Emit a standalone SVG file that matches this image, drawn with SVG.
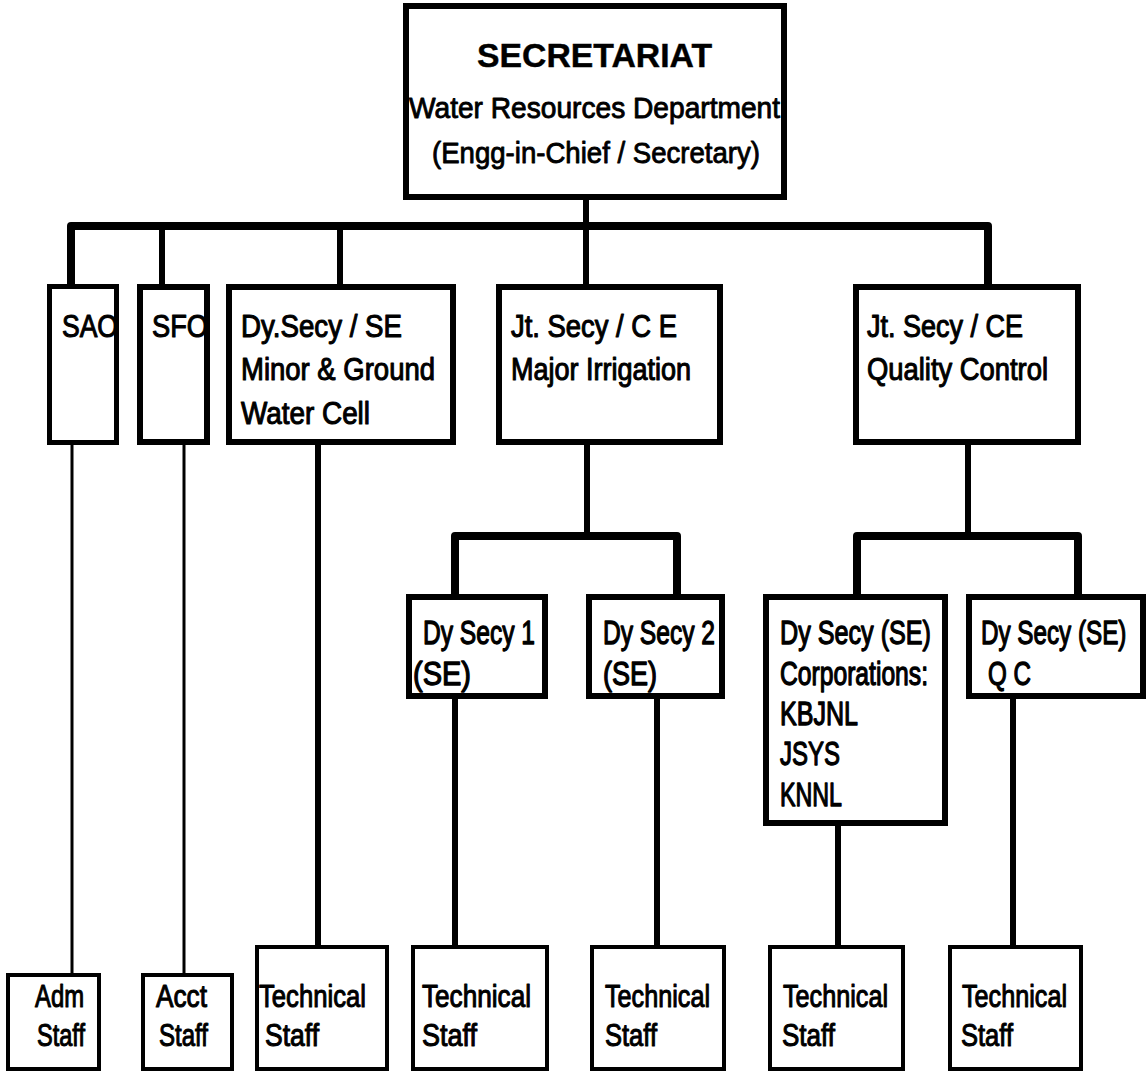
<svg xmlns="http://www.w3.org/2000/svg" width="1148" height="1075" viewBox="0 0 1148 1075">
  <style>
    .box { fill: #fff; stroke: #000; stroke-width: 6; }
    .box-mid { fill: #fff; stroke: #000; stroke-width: 5; }
    .box-thin { fill: #fff; stroke: #000; stroke-width: 4; }
    .wire { fill: none; stroke: #000; stroke-width: 6; stroke-linejoin: round; }
    .bus { fill: none; stroke: #000; stroke-width: 8; stroke-linejoin: round; }
    .wire-thin { fill: none; stroke: #000; stroke-width: 3; }
    .t { font-family: "Liberation Sans Narrow", "Liberation Sans", Arial, sans-serif; font-size: 32px; fill: #000; stroke: #000; stroke-width: 1.1; stroke-linejoin: round; }
    .t33 { font-size: 33px; stroke-width: 1.3; }
    .title { font-family: "Liberation Sans", Arial, sans-serif; font-size: 33px; font-weight: bold; fill: #000; stroke: #000; stroke-width: 0.4; }
    .sub { font-family: "Liberation Sans", Arial, sans-serif; font-size: 29.5px; fill: #000; stroke: #000; stroke-width: 0.9; stroke-linejoin: round; }
  </style>
  <defs>
    <clipPath id="clip-sao"><rect x="50" y="287" width="66" height="155"/></clipPath>
    <clipPath id="clip-sfo"><rect x="140" y="287" width="67" height="155"/></clipPath>
  </defs>
  <rect width="1148" height="1075" fill="#fff"/>

  <!-- connectors -->
  <g id="connectors">
    <!-- secretariat to second row -->
    <line class="wire" x1="586" y1="197" x2="586" y2="287"/>
    <path class="bus" d="M71 287 V226 H988 V287"/>
    <line class="wire" x1="162" y1="226" x2="162" y2="287"/>
    <line class="wire" x1="340" y1="226" x2="340" y2="287"/>
    <!-- SAO / SFO to staff -->
    <line class="wire-thin" x1="72" y1="445" x2="72" y2="975"/>
    <line class="wire-thin" x1="184" y1="445" x2="184" y2="975"/>
    <!-- minor & ground water cell to staff -->
    <line class="wire" x1="318" y1="445" x2="318" y2="947"/>
    <!-- major irrigation branch -->
    <line class="wire" x1="587" y1="445" x2="587" y2="536"/>
    <path class="bus" d="M455 597 V536 H677 V597"/>
    <!-- quality control branch -->
    <line class="wire" x1="968" y1="445" x2="968" y2="536"/>
    <path class="bus" d="M857 597 V536 H1078 V597"/>
    <!-- third row to staff -->
    <line class="wire" x1="455" y1="699" x2="455" y2="947"/>
    <line class="wire" x1="657" y1="699" x2="657" y2="947"/>
    <line class="wire" x1="838" y1="826" x2="838" y2="947"/>
    <line class="wire" x1="1013" y1="699" x2="1013" y2="947"/>
  </g>

  <!-- top -->
  <g id="secretariat">
    <rect class="box" x="406" y="6" width="378" height="191"/>
    <text class="title" x="477" y="67" textLength="235" lengthAdjust="spacingAndGlyphs">SECRETARIAT</text>
    <text class="sub" x="409" y="118" textLength="371" lengthAdjust="spacingAndGlyphs">Water Resources Department</text>
    <text class="sub" x="432" y="163" textLength="328" lengthAdjust="spacingAndGlyphs">(Engg-in-Chief / Secretary)</text>
  </g>

  <!-- second row -->
  <g id="sao">
    <rect class="box-mid" x="49.5" y="286.5" width="67" height="156"/>
    <text class="t" x="62" y="337" textLength="56" lengthAdjust="spacingAndGlyphs" clip-path="url(#clip-sao)">SAO</text>
  </g>
  <g id="sfo">
    <rect class="box" x="140" y="287" width="67" height="155"/>
    <text class="t" x="152" y="337" textLength="56" lengthAdjust="spacingAndGlyphs" clip-path="url(#clip-sfo)">SFO</text>
  </g>
  <g id="minor-ground-water">
    <rect class="box" x="229" y="287" width="224" height="155"/>
    <text class="t" x="241" y="337" textLength="161" lengthAdjust="spacingAndGlyphs">Dy.Secy / SE</text>
    <text class="t" x="241" y="380" textLength="194" lengthAdjust="spacingAndGlyphs">Minor &amp; Ground</text>
    <text class="t" x="241" y="424" textLength="129" lengthAdjust="spacingAndGlyphs">Water Cell</text>
  </g>
  <g id="major-irrigation">
    <rect class="box" x="499" y="287" width="221" height="155"/>
    <text class="t" x="511" y="337" textLength="166" lengthAdjust="spacingAndGlyphs">Jt. Secy / C E</text>
    <text class="t" x="511" y="380" textLength="180" lengthAdjust="spacingAndGlyphs">Major Irrigation</text>
  </g>
  <g id="quality-control">
    <rect class="box" x="856" y="287" width="222" height="155"/>
    <text class="t" x="867" y="337" textLength="156" lengthAdjust="spacingAndGlyphs">Jt. Secy / CE</text>
    <text class="t" x="867" y="380" textLength="181" lengthAdjust="spacingAndGlyphs">Quality Control</text>
  </g>

  <!-- third row -->
  <g id="dy-secy-1">
    <rect class="box" x="409" y="597" width="136" height="99"/>
    <text class="t t33" x="423" y="644" textLength="112" lengthAdjust="spacingAndGlyphs">Dy Secy 1</text>
    <text class="t t33" x="413" y="685" textLength="58" lengthAdjust="spacingAndGlyphs">(SE)</text>
  </g>
  <g id="dy-secy-2">
    <rect class="box" x="589" y="597" width="133" height="99"/>
    <text class="t t33" x="603" y="644" textLength="112" lengthAdjust="spacingAndGlyphs">Dy Secy 2</text>
    <text class="t t33" x="603" y="685" textLength="54" lengthAdjust="spacingAndGlyphs">(SE)</text>
  </g>
  <g id="corporations">
    <rect class="box" x="766" y="597" width="179" height="226"/>
    <text class="t t33" x="780" y="644" textLength="151" lengthAdjust="spacingAndGlyphs">Dy Secy (SE)</text>
    <text class="t t33" x="780" y="685" textLength="148" lengthAdjust="spacingAndGlyphs">Corporations:</text>
    <text class="t t33" x="780" y="725" textLength="78" lengthAdjust="spacingAndGlyphs">KBJNL</text>
    <text class="t t33" x="780" y="765" textLength="60" lengthAdjust="spacingAndGlyphs">JSYS</text>
    <text class="t t33" x="780" y="806" textLength="62" lengthAdjust="spacingAndGlyphs">KNNL</text>
  </g>
  <g id="qc-dy-secy">
    <rect class="box" x="969" y="597" width="174" height="99"/>
    <!-- narrowed with a horizontal scale so the line stays inside the box -->
    <text class="t t33" transform="translate(981 644) scale(0.735 1)">Dy Secy (SE)</text>
    <text class="t t33" x="988" y="685" textLength="43" lengthAdjust="spacingAndGlyphs">Q C</text>
  </g>

  <!-- staff row -->
  <g id="adm-staff">
    <rect class="box-thin" x="8" y="975" width="91" height="94"/>
    <text class="t" x="35" y="1007" textLength="49" lengthAdjust="spacingAndGlyphs">Adm</text>
    <text class="t" x="37" y="1046" textLength="48" lengthAdjust="spacingAndGlyphs">Staff</text>
  </g>
  <g id="acct-staff">
    <rect class="box-thin" x="143" y="975" width="89" height="94"/>
    <text class="t" x="156" y="1007" textLength="51" lengthAdjust="spacingAndGlyphs">Acct</text>
    <text class="t" x="159" y="1046" textLength="49" lengthAdjust="spacingAndGlyphs">Staff</text>
  </g>
  <g id="tech-staff-1">
    <rect class="box-thin" x="257" y="947" width="130" height="122"/>
    <text class="t" x="259" y="1007" textLength="107" lengthAdjust="spacingAndGlyphs">Technical</text>
    <text class="t" x="265" y="1046" textLength="54" lengthAdjust="spacingAndGlyphs">Staff</text>
  </g>
  <g id="tech-staff-2">
    <rect class="box-thin" x="413" y="947" width="134" height="122"/>
    <text class="t" x="422" y="1007" textLength="109" lengthAdjust="spacingAndGlyphs">Technical</text>
    <text class="t" x="422" y="1046" textLength="55" lengthAdjust="spacingAndGlyphs">Staff</text>
  </g>
  <g id="tech-staff-3">
    <rect class="box-thin" x="592" y="947" width="132" height="122"/>
    <text class="t" x="605" y="1007" textLength="105" lengthAdjust="spacingAndGlyphs">Technical</text>
    <text class="t" x="605" y="1046" textLength="52" lengthAdjust="spacingAndGlyphs">Staff</text>
  </g>
  <g id="tech-staff-4">
    <rect class="box-thin" x="770" y="947" width="133" height="122"/>
    <text class="t" x="783" y="1007" textLength="105" lengthAdjust="spacingAndGlyphs">Technical</text>
    <text class="t" x="782" y="1046" textLength="53" lengthAdjust="spacingAndGlyphs">Staff</text>
  </g>
  <g id="tech-staff-5">
    <rect class="box-thin" x="950" y="947" width="131" height="122"/>
    <text class="t" x="962" y="1007" textLength="105" lengthAdjust="spacingAndGlyphs">Technical</text>
    <text class="t" x="961" y="1046" textLength="52" lengthAdjust="spacingAndGlyphs">Staff</text>
  </g>
</svg>
